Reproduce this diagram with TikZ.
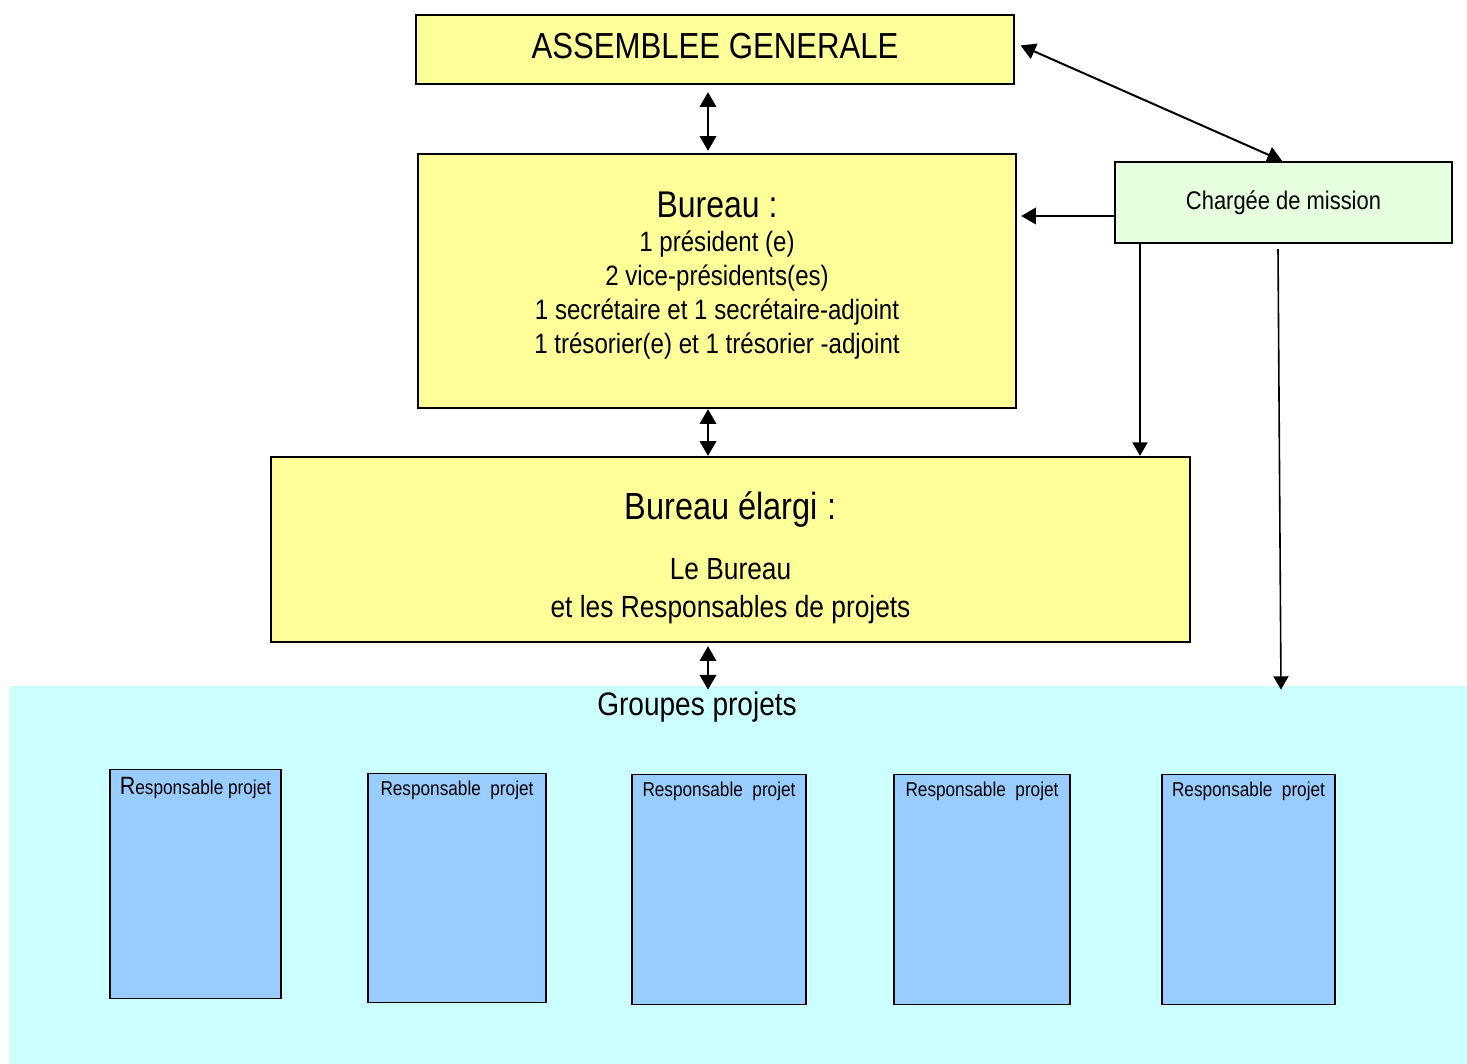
\documentclass[tikz,border=0pt]{standalone}
\usepackage{fontspec}
\setmainfont{Liberation Sans}[FakeStretch=0.86]
\usetikzlibrary{arrows}
\definecolor{boxYellow}{HTML}{FFFF99}
\definecolor{boxGreen}{HTML}{E6FFDE}
\definecolor{groupCyan}{HTML}{CCFFFF}
\definecolor{projBlue}{HTML}{99CCFF}

\begin{document}
\begin{tikzpicture}[x=0.5pt,y=-0.5pt,
	boxName/.style={draw, line width=1.2pt, fill=boxYellow, align=center, inner sep=0pt},
	projName/.style={draw, line width=0.6pt, fill=projBlue, anchor=north, inner sep=0pt},
	link/.style={line width=1pt, >=triangle 60}]
\useasboundingbox (0,0) rectangle (1467,1064);
	\node[fill=groupCyan, inner sep=0pt, minimum width=729pt, minimum height=189pt] (groupes) at (738,875) {};
	\node[font=\fontsize{16.3}{19}\selectfont] (groupesTitle) at (697,707) {Groupes projets};
	\node[boxName, minimum width=299pt, minimum height=34.5pt, text depth=3.5pt, font=\fontsize{18.1}{22}\selectfont] (ag) at (715,49.5) {ASSEMBLEE GENERALE};
	\node[boxName, minimum width=299pt, minimum height=127pt, text depth=8pt, font=\fontsize{14}{17}\selectfont] (bureau) at (717,281)
		{{\fontsize{18.6}{22}\selectfont Bureau :}\\ 1 président (e)\\ 2 vice-présidents(es)\\ 1 secrétaire et 1 secrétaire-adjoint\\ 1 trésorier(e) et 1 trésorier -adjoint};
	\node[boxName, minimum width=459.5pt, minimum height=92.5pt, text depth=0pt, font=\fontsize{15.3}{19}\selectfont] (elargi) at (730.5,549.5)
		{\rule{0pt}{19pt}{\fontsize{18.9}{22}\selectfont Bureau élargi :}\\[11pt] Le Bureau\\ et les Responsables de projets};
	\node[boxName, fill=boxGreen, minimum width=168.5pt, minimum height=40.5pt, font=\fontsize{12.75}{15}\selectfont] (mission) at (1283.5,202.5) {Chargée de mission};
	\foreach \cx/\top/\w/\h/\txt [count=\i] in {
		195.5/769/85.5/114.5/{{\fontsize{12.5}{14}\selectfont R}esponsable projet},
		457/773/89/114.5/{Responsable\ \ projet},
		719/774/87/115/{Responsable\ \ projet},
		982/774/88/115/{Responsable\ \ projet},
		1248.5/774/86.5/115/{Responsable\ \ projet}}
		\node[projName, minimum width=\w pt, minimum height=\h pt,
			label={[anchor=north, inner sep=4pt, font=\fontsize{10}{12}\selectfont]north:\txt}] (proj\i) at (\cx,\top) {};
	\coordinate (spine) at (708,0);
	\coordinate (missionLeft) at (1140,0);
	\draw[link, <->, shorten <=3.5pt, shorten >=1pt] (ag.south -| spine) -- (bureau.north -| spine);
	\draw[link, <->] (bureau.south -| spine) -- (elargi.north -| spine);
	\draw[link, <->, shorten <=1.5pt, shorten >=-2pt] (elargi.south -| spine) -- (groupes.north -| spine);
	\draw[link, <->, shorten <=3pt] ([yshift=3.25pt]ag.east) -- ([xshift=-0.75pt]mission.north);
	\draw[link, ->, shorten >=2pt] ([yshift=-6.75pt]mission.west) -- ([yshift=-6.75pt]mission.west -| bureau.east);
	\draw[link, ->, line width=0.8pt] (mission.south -| missionLeft) -- (elargi.north -| missionLeft);
	\draw[link, ->, line width=0.8pt] ([xshift=-2.75pt,yshift=-2.5pt]mission.south) -- ([xshift=-1.25pt,yshift=-2pt]groupes.north -| mission.south);
\end{tikzpicture}
\end{document}
